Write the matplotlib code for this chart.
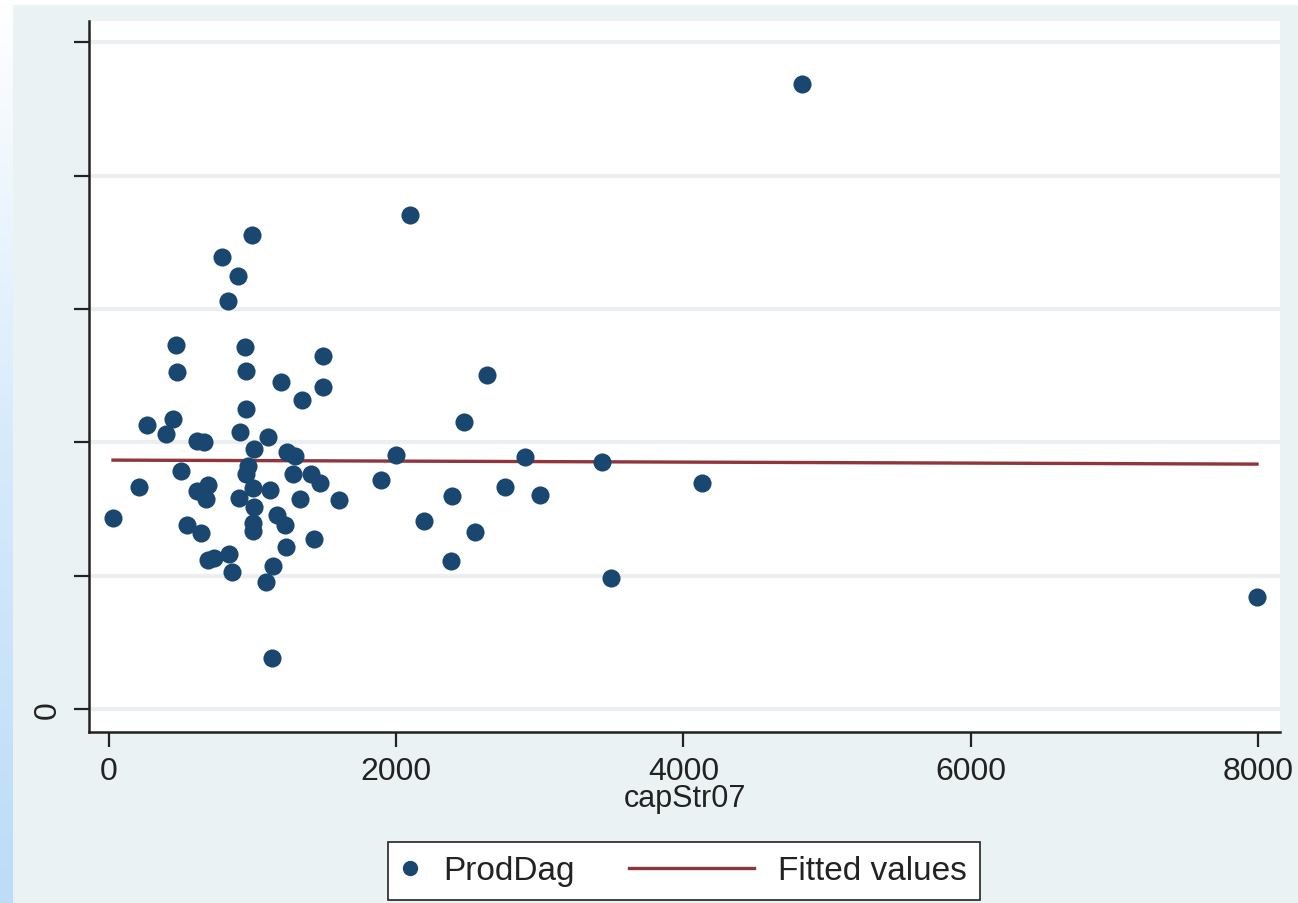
import numpy as np
import matplotlib
matplotlib.use('Agg')
from matplotlib import pyplot as plt
from matplotlib.lines import Line2D
from matplotlib.legend_handler import HandlerBase

plt.rcParams['font.family'] = ['Liberation Sans', 'DejaVu Sans']

# capStr07 (x) and ProdDag (y)
cap_str07 = [4826, 2096, 996, 787, 898, 829, 467, 947, 1490, 474, 954, 2632,
             1198, 1490, 1344, 954, 265, 446, 2472, 397, 912, 1107, 613, 662,
             1010, 1240, 1295, 1999, 2897, 3433, 968, 501, 954, 1281, 1407, 1469,
             1894, 4130, 209, 689, 1003, 1121, 2758, 613, 675, 905, 1330, 1602,
             2389, 3001, 1010, 28, 1170, 543, 641, 1003, 1226, 1003, 2194, 2549,
             1428, 1233, 836, 731, 689, 2382, 1142, 857, 1093, 3496, 7994, 1135]
prod_dag = [46.85, 37.03, 35.53, 33.88, 32.46, 30.58, 27.29, 27.14, 26.46, 25.26,
            25.34, 25.04, 24.51, 24.14, 23.16, 22.49, 21.29, 21.74, 21.51, 20.61,
            20.76, 20.39, 20.09, 20.01, 19.49, 19.27, 18.97, 19.04, 18.89, 18.52,
            18.22, 17.84, 17.62, 17.62, 17.62, 16.94, 17.17, 16.94, 16.64, 16.79,
            16.57, 16.42, 16.64, 16.34, 15.74, 15.82, 15.74, 15.67, 15.97, 16.04,
            15.14, 14.32, 14.54, 13.79, 13.19, 13.94, 13.79, 13.34, 14.09, 13.27,
            12.74, 12.14, 11.62, 11.32, 11.17, 11.09, 10.72, 10.27, 9.52, 9.82,
            8.40, 3.82]

# fitted line end points
fit_x = [28, 7994]
fit_y = [18.67, 18.37]

y_ticks = [0, 10, 20, 30, 40, 50]
y_tick_labels = ['0', '', '', '', '', '']
x_ticks = [0, 2000, 4000, 6000, 8000]

navy = '#1a476f'
maroon = '#90353b'
bg = '#eaf2f3'


# legend key: line that reaches out to the left of its (short) handle box
class LongLine(HandlerBase):
    def create_artists(self, legend, orig_handle, xdescent, ydescent,
                       width, height, fontsize, trans):
        y = height / 2 - ydescent
        ln = Line2D([-xdescent - 3.2 * fontsize, -xdescent + width], [y, y],
                    color=orig_handle.get_color(), linewidth=orig_handle.get_linewidth())
        ln.set_transform(trans)
        return [ln]


fig = plt.figure(figsize=(12.98, 9.04), dpi=100)
fig.patch.set_facecolor('white')

# graph region background and left blue strip
fig.patches.append(plt.Rectangle((12/1298, 0), 1, 898/904, transform=fig.transFigure,
                                 facecolor=bg, edgecolor='none', zorder=-10))
strip = fig.add_axes([0, 0, 12/1298, 1])
grad = np.linspace(0, 1, 256).reshape(-1, 1)
strip.imshow(grad, aspect='auto', cmap=matplotlib.colors.LinearSegmentedColormap.from_list(
    'b', ['#bcdcf8', '#d6eafb', '#ffffff']), origin='lower')
strip.axis('off')

ax = fig.add_axes([89/1298, 171/904, (1280-89)/1298, (733-22)/904])
ax.set_facecolor('white')

ax.scatter(cap_str07, prod_dag, s=170, color=navy, zorder=3, linewidths=0)
fit_line, = ax.plot(fit_x, fit_y, color=maroon, linewidth=2.4, zorder=2)

ax.set_xlim(-139, 8154)
ax.set_ylim(-1.72, 51.6)
ax.set_xticks(x_ticks)
ax.set_yticks(y_ticks)
ax.set_yticklabels(y_tick_labels, rotation=90, va='center')

ax.grid(axis='y', color='#ebeff1', linewidth=3, zorder=0)
ax.set_axisbelow(True)

for s in ['top', 'right']:
    ax.spines[s].set_visible(False)
for s in ['left', 'bottom']:
    ax.spines[s].set_linewidth(1.8)
    ax.spines[s].set_color('#222222')

ax.tick_params(axis='both', length=11, width=1.6, color='#222222',
               labelsize=23, labelcolor='#222222', pad=6)
ax.tick_params(axis='y', pad=8)

ax.set_xlabel('capStr07', fontsize=22, color='#222222', labelpad=-2)

dot = Line2D([], [], marker='o', linestyle='none', markersize=10, color=navy)
leg = fig.legend([dot, fit_line], ['ProdDag', 'Fitted values'], loc='center',
                 bbox_to_anchor=(684/1298, 1-872/904), ncol=2, fontsize=24,
                 frameon=True, fancybox=False, handlelength=0.55,
                 handletextpad=0.7, columnspacing=4.85, borderpad=0.4,
                 handler_map={fit_line: LongLine()})
leg.get_frame().set_edgecolor('#222222')
leg.get_frame().set_linewidth(1.2)
leg.get_frame().set_facecolor('white')
leg.get_frame().set_alpha(1)
for t in leg.get_texts():
    t.set_color('#222222')

fig.savefig('out.png', dpi=100)
